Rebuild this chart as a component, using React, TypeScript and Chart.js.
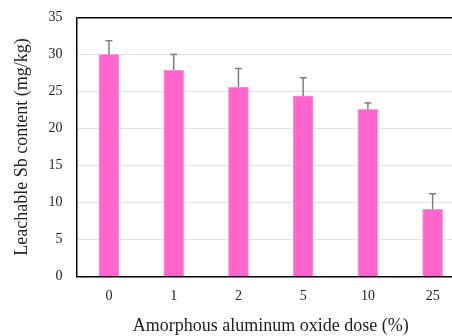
import React, { useEffect, useRef } from "react";
import { Chart, registerables } from "chart.js";

Chart.register(...registerables);

const categories = ["0", "1", "2", "5", "10", "25"];
const values = [30.0, 27.9, 25.6, 24.4, 22.6, 9.1];
const errors = [1.85, 2.1, 2.5, 2.45, 0.85, 2.1];
const yTitle = "Leachable Sb content (mg/kg)";
const xTitle = "Amorphous aluminum oxide dose (%)";

const FONT = "'Liberation Serif', 'Times New Roman', serif";

const errorBarPlugin = {
  id: "errorBars",
  afterDatasetsDraw(chart: any) {
    const { ctx, scales } = chart;
    const meta = chart.getDatasetMeta(0);
    ctx.save();
    ctx.strokeStyle = "#7f7f7f";
    ctx.lineWidth = 1.5;
    meta.data.forEach((bar: any, i: number) => {
      const x = bar.x;
      const yTop = scales.y.getPixelForValue(values[i] + errors[i]);
      const yBase = scales.y.getPixelForValue(values[i]);
      ctx.beginPath();
      ctx.moveTo(x, yBase);
      ctx.lineTo(x, yTop);
      ctx.moveTo(x - 3.5, yTop);
      ctx.lineTo(x + 3.5, yTop);
      ctx.stroke();
    });
    ctx.restore();
  },
};

export default function App() {
  const ref = useRef<HTMLCanvasElement>(null);
  useEffect(() => {
    if (!ref.current) return;
    const chart = new Chart(ref.current, {
      type: "bar",
      data: {
        labels: categories,
        datasets: [
          {
            data: values,
            backgroundColor: "#FF66CC",
            borderColor: "#FF99DD",
            borderWidth: { left: 1, right: 1, top: 1, bottom: 0 },
            barThickness: 20,
          },
        ],
      },
      options: {
        responsive: false,
        animation: false,
        layout: { padding: { top: 12, right: 6, bottom: 0, left: 1 } },
        plugins: {
          legend: { display: false },
          tooltip: { enabled: false },
        },
        scales: {
          x: {
            grid: { display: false, drawTicks: false },
            border: { color: "#000", width: 1.5 },
            ticks: {
              color: "#222",
              padding: 11,
              font: { family: FONT, size: 14 },
            },
            title: {
              display: true,
              text: xTitle,
              color: "#222",
              padding: { top: 0, bottom: 0 },
              font: { family: FONT, size: 18 },
            },
          },
          y: {
            min: 0,
            max: 35,
            ticks: {
              stepSize: 5,
              color: "#222",
              padding: 14,
              font: { family: FONT, size: 14 },
            },
            grid: {
              drawTicks: false,
              color: (c: any) => (c.tick && c.tick.value === 35 ? "#000" : "#e3e3e3"),
              lineWidth: (c: any) => (c.tick && c.tick.value === 35 ? 1.5 : 1),
            },
            border: { color: "#000", width: 1.5 },
            title: {
              display: true,
              text: yTitle,
              color: "#222",
              padding: { top: 10, bottom: 2 },
              font: { family: FONT, size: 18 },
            },
          },
        },
      },
      plugins: [errorBarPlugin],
    });
    return () => chart.destroy();
  }, []);
  return (
    <div
      style={{
        position: "fixed",
        left: 0,
        top: 0,
        width: 452,
        height: 336,
        overflow: "hidden",
        background: "#fff",
      }}
    >
      <canvas
        ref={ref}
        width={471}
        height={342}
        style={{ display: "block", position: "absolute", left: 0, top: -5 }}
      />
    </div>
  );
}
